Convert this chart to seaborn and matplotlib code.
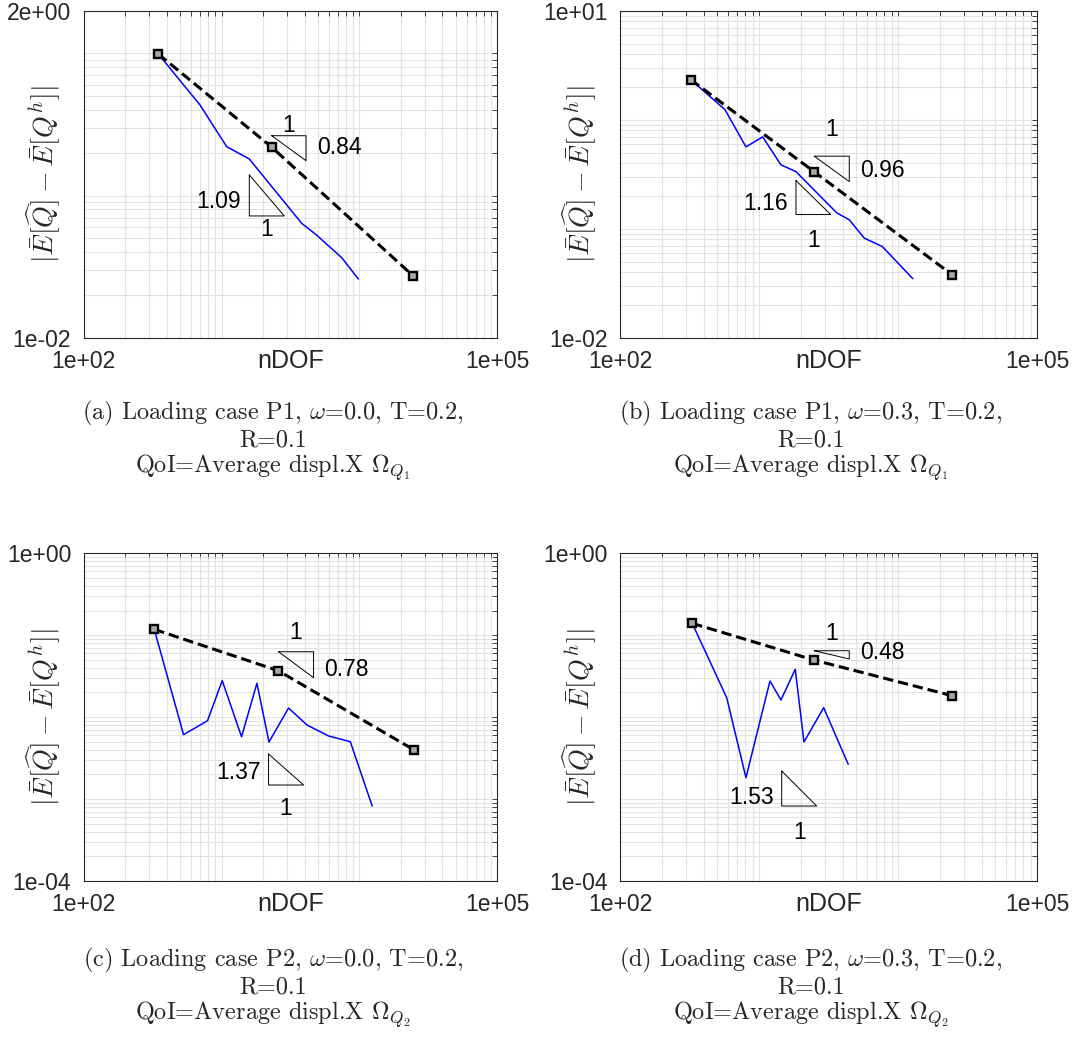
import numpy as np
import matplotlib
matplotlib.use("Agg")
import matplotlib.pyplot as plt
from matplotlib.ticker import LogLocator, NullFormatter, FixedLocator, FixedFormatter
import seaborn as sns

# ---- data (nDOF vs. error) ----
ndof_a = [348, 698, 1089, 1589, 3811, 4819, 7430, 9820]
err_a = [0.99, 0.434, 0.221, 0.181, 0.0638, 0.0534, 0.0366, 0.0259]
ndof_b = [323, 569, 806, 1063, 1440, 1846, 3622, 4463, 5723, 7709, 12790]
err_b = [2.33, 1.238, 0.563, 0.696, 0.385, 0.334, 0.140, 0.1207, 0.082, 0.0687, 0.0348]
ndof_c = [325, 530, 791, 1011, 1396, 1805, 2206, 3061, 4164, 5971, 8580, 12370]
err_c = [0.118, 0.00611, 0.00905, 0.0279, 0.00577, 0.0259, 0.00497, 0.01293,
         0.00802, 0.00589, 0.00502, 0.000823]
ndof_d = [331, 586, 806, 1200, 1440, 1824, 2107, 2920, 4389]
err_d = [0.1398, 0.01728, 0.001824, 0.0276, 0.0162, 0.0384, 0.00497, 0.01304, 0.002658]

# dashed fitted lines (3 markers each)
fit_ndof_a = [348, 2311, 24550]
fit_err_a = [0.99, 0.219, 0.0272]
fit_ndof_b = [323, 2487, 24550]
fit_err_b = [2.33, 0.334, 0.0378]
fit_ndof_c = [325, 2577, 24950]
fit_err_c = [0.118, 0.0369, 0.00397]
fit_ndof_d = [331, 2487, 24550]
fit_err_d = [0.1398, 0.0498, 0.01827]

# slope triangles: (x0, x1, y_top, y_bot)
tri_fit = [(2311, 4097, 0.2638, 0.176), (2500, 4463, 0.4628, 0.2708),
           (2590, 4647, 0.0629, 0.0303), (2500, 4463, 0.0647, 0.0513)]
tri_data = [(1589, 2852, 0.1397, 0.0719), (1846, 3281, 0.2765, 0.1349),
            (2192, 3932, 0.003551, 0.001485), (1457, 2601, 0.0022, 0.000823)]
slope_fit = ["0.84", "0.96", "0.78", "0.48"]
slope_data = ["1.09", "1.16", "1.37", "1.53"]

ylims = [(1e-2, 2), (1e-2, 10), (1e-4, 1), (1e-4, 1)]
ytick_labels = [["1e-02", "2e+00"], ["1e-02", "1e+01"], ["1e-04", "1e+00"], ["1e-04", "1e+00"]]
xlim = (1e2, 1e5)
xtick_labels = ["1e+02", "1e+05"]

captions = [
    "(a) Loading case P1, $\\omega$=0.0, T=0.2,\nR=0.1\nQoI=Average displ.X $\\Omega_{Q_1}$",
    "(b) Loading case P1, $\\omega$=0.3, T=0.2,\nR=0.1\nQoI=Average displ.X $\\Omega_{Q_1}$",
    "(c) Loading case P2, $\\omega$=0.0, T=0.2,\nR=0.1\nQoI=Average displ.X $\\Omega_{Q_2}$",
    "(d) Loading case P2, $\\omega$=0.3, T=0.2,\nR=0.1\nQoI=Average displ.X $\\Omega_{Q_2}$",
]

# label offsets in pixels: (upper "1" above, upper slope dy, lower slope dy, lower "1" below)
label_off = [(10, 1, 14, 14), (27, -2, 11, 26), (19, -5, 13, 23), (17, 2, 8, 27)]

sns.set_theme(style="white")
plt.rcParams["font.family"] = ["Liberation Sans", "DejaVu Sans"]
plt.rcParams["mathtext.fontset"] = "cm"

W, H = 1073, 1059
fig = plt.figure(figsize=(W / 100, H / 100), dpi=100)
positions = [[0.078, 0.6811, 0.3855, 0.3088], [0.5778, 0.6811, 0.3886, 0.3088],
             [0.078, 0.1681, 0.3855, 0.3094], [0.5778, 0.1681, 0.3886, 0.3094]]

curves = [(ndof_a, err_a), (ndof_b, err_b), (ndof_c, err_c), (ndof_d, err_d)]
fits = [(fit_ndof_a, fit_err_a), (fit_ndof_b, fit_err_b), (fit_ndof_c, fit_err_c), (fit_ndof_d, fit_err_d)]
txt_kw = dict(textcoords="offset pixels", fontsize=16.5, color="black")

for i in range(4):
    ax = fig.add_axes(positions[i])
    ax.set_xscale("log")
    ax.set_yscale("log")

    sns.lineplot(x=curves[i][0], y=curves[i][1], ax=ax, color="#0000ff", lw=1.1,
                 sort=False, estimator=None)
    sns.lineplot(x=fits[i][0], y=fits[i][1], ax=ax, color="black", lw=2.2,
                 linestyle=(0, (3.4, 1.6)), marker="s", markersize=5.2,
                 markerfacecolor="#a8a8a8", markeredgecolor="black", markeredgewidth=1.7,
                 sort=False, estimator=None)

    # slope triangle of fitted line (upper) and of data (lower)
    x0, x1, yt, yb = tri_fit[i]
    ax.plot([x0, x1, x1, x0], [yt, yt, yb, yt], color="black", lw=0.7)
    xm, ym = np.sqrt(x0 * x1), np.sqrt(yt * yb)
    ax.annotate("1", (xm, yt), xytext=(0, label_off[i][0]), ha="center", va="center", **txt_kw)
    ax.annotate(slope_fit[i], (x1, ym), xytext=(11, label_off[i][1]), ha="left", va="center", **txt_kw)

    x0, x1, yt, yb = tri_data[i]
    ax.plot([x0, x0, x1, x0], [yt, yb, yb, yt], color="black", lw=0.7)
    xm = np.sqrt(x0 * x1)
    ax.annotate(slope_data[i], (x0, yb), xytext=(-8, label_off[i][2]), ha="right", va="center", **txt_kw)
    ax.annotate("1", (xm, yb), xytext=(0, -label_off[i][3]), ha="center", va="center", **txt_kw)

    ax.set_xlim(*xlim)
    ax.set_ylim(*ylims[i])
    ax.xaxis.set_major_locator(FixedLocator(list(xlim)))
    ax.xaxis.set_major_formatter(FixedFormatter(xtick_labels))
    ax.yaxis.set_major_locator(FixedLocator(list(ylims[i])))
    ax.yaxis.set_major_formatter(FixedFormatter(ytick_labels[i]))
    for axis in (ax.xaxis, ax.yaxis):
        axis.set_minor_locator(LogLocator(base=10, subs=np.arange(1, 10), numticks=100))
        axis.set_minor_formatter(NullFormatter())

    ax.grid(True, which="both", color="#e2e2e2", lw=0.8)
    ax.set_axisbelow(True)
    ax.tick_params(which="both", direction="in", top=True, right=True, length=3.5,
                   width=0.6, color="#262626", labelsize=16.5, pad=9)
    for sp in ax.spines.values():
        sp.set_color("#262626")
        sp.set_linewidth(0.8)

    ax.set_xlabel("nDOF", fontsize=18, va="center")
    ax.xaxis.set_label_coords(0.5, -0.071)
    ax.set_ylabel(r"$|\bar{E}[\widehat{Q}] - \bar{E}[Q^h]|$", fontsize=20, va="center")
    ax.yaxis.set_label_coords(-0.096, 0.5)

# sub-captions below each panel
cap_x = [273, 811, 273, 811]
cap_y = [441, 441, 988, 988]
for i in range(4):
    fig.text(cap_x[i] / W, 1 - cap_y[i] / H, captions[i], ha="center", va="center",
             family="cmr10", fontsize=17.5, linespacing=1.04, multialignment="center")

fig.savefig("out.png", dpi=100)
